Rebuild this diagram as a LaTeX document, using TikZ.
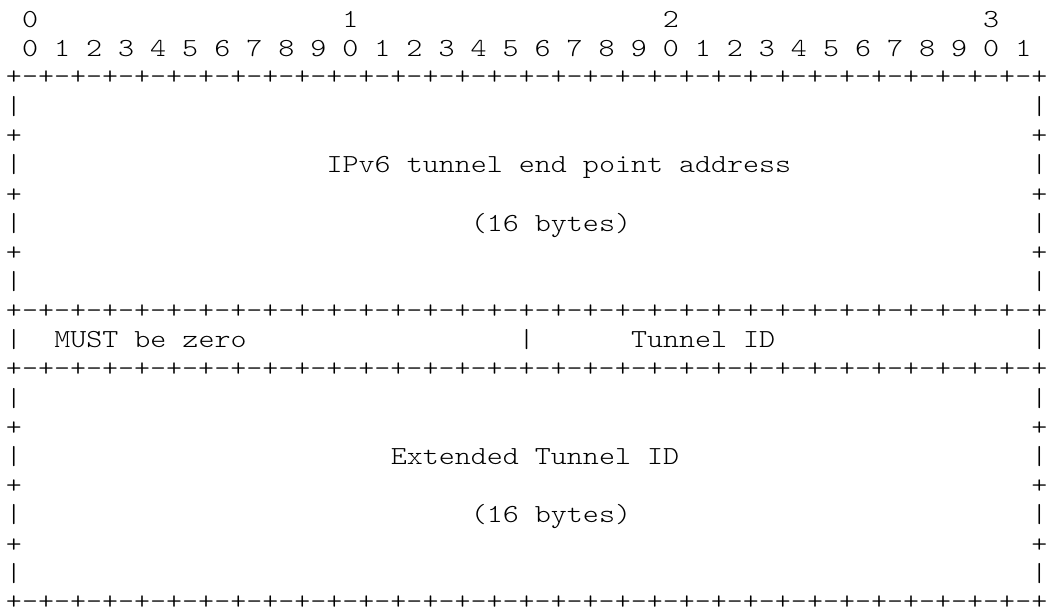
\documentclass[tikz,border=0pt]{standalone}
\usepackage{fontspec}
\newfontfamily\asciifont[FakeStretch=1.1736]{lmmonolt10-regular.otf}
\usetikzlibrary{positioning}
\tikzstyle{glyph} = [inner sep=0pt, anchor=base, font=\fontsize{19.5}{20}\asciifont]
\tikzstyle{rulemark} = [glyph, text depth=0pt]
\tikzstyle{field} = [glyph, anchor=base west]
\newcommand{\cw}{16.02}
\newcommand{\lh}{29.17}

\begin{document}
\begin{tikzpicture}[x=0.75pt, y=-0.75pt]

    \useasboundingbox (0,0) rectangle (1049,612);

    % bit numbers on top
    \foreach \d [count=\i from 0] in {0,1,2,3}
        \node (dec-\i) [glyph] at ({14+(1+20*\i)*\cw}, 27) {\d};
    \foreach \i in {0,...,31} {
        \pgfmathtruncatemacro\d{mod(\i,10)}
        \node (bit-\i) [glyph] at ({14+(1+2*\i)*\cw}, {27+\lh}) {\d};
    }

    % +-+-+ rulers
    \foreach \r in {3,11,13,21}
        \foreach \c in {0,...,64}
            \node (rule-\r-\c) [rulemark] at ({14+\c*\cw}, {26.5+(\r-1)*\lh}) {\ifodd\c -\else +\fi};

    % side walls of the two 16 byte blocks
    \foreach \r in {4,...,10,14,15,...,20}
        \foreach \c in {0,64}
            \node (wall-\r-\c) [glyph] at ({14+\c*\cw}, {27+(\r-1)*\lh}) {\ifodd\r +\else |\fi};

    % the 32 bit row in between
    \foreach \c in {0,32,64}
        \node (wall-12-\c) [glyph] at ({14+\c*\cw}, {27+11*\lh}) {|};

    % field names
    \node (addr) [field] at ({6+20*\cw}, {27+5*\lh}) {IPv6 tunnel end point address};
    \node (addrlen) [field] at ({6+29*\cw}, {27+7*\lh}) {(16 bytes)};
    \node (zero) [field] at ({6+3*\cw}, {27+11*\lh}) {MUST be zero};
    \node (tunid) [field] at ({6+39*\cw}, {27+11*\lh}) {Tunnel ID};
    \node (exttunid) [field] at ({6+24*\cw}, {27+15*\lh}) {Extended Tunnel ID};
    \node (extlen) [field] at ({6+29*\cw}, {27+17*\lh}) {(16 bytes)};

\end{tikzpicture}
\end{document}
